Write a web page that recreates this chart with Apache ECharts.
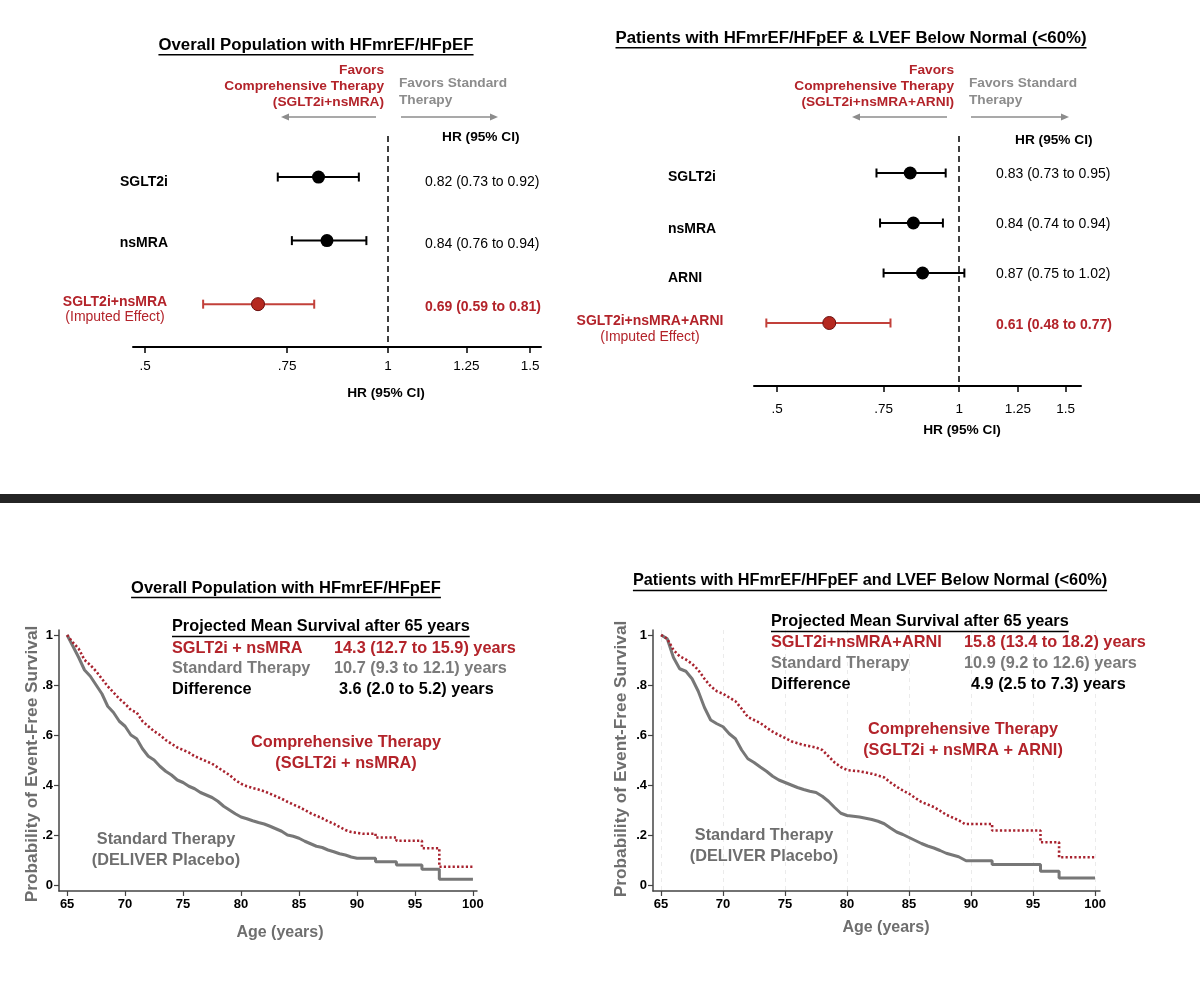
<!DOCTYPE html>
<html>
<head>
<meta charset="utf-8">
<script src="https://cdn.jsdelivr.net/npm/echarts@6/dist/echarts.min.js"></script>
<style>html,body{margin:0;padding:0;background:#fff;}#c{width:1200px;height:1007px;}</style>
</head>
<body>
<div id="c"></div>
<script>
// ---------- DATA ----------
const hrTicks = [0.5, 0.75, 1, 1.25, 1.5];
const hrTickLabels = ['.5', '.75', '1', '1.25', '1.5'];

const fpLeftLabels = ['SGLT2i', 'nsMRA', 'SGLT2i+nsMRA'];
const fpLeftHR = [0.82, 0.84, 0.69];
const fpLeftLo = [0.73, 0.76, 0.59];
const fpLeftHi = [0.92, 0.94, 0.81];
const fpLeftImputed = [0, 0, 1];

const fpRightLabels = ['SGLT2i', 'nsMRA', 'ARNI', 'SGLT2i+nsMRA+ARNI'];
const fpRightHR = [0.83, 0.84, 0.87, 0.61];
const fpRightLo = [0.73, 0.74, 0.75, 0.48];
const fpRightHi = [0.95, 0.94, 1.02, 0.77];
const fpRightImputed = [0, 0, 0, 1];

const ageTicks = [65, 70, 75, 80, 85, 90, 95, 100];
const survTicks = [0, 0.2, 0.4, 0.6, 0.8, 1];
const survTickLabels = ['0', '.2', '.4', '.6', '.8', '1'];

// Bottom-left: Overall population (curve corners)
const kmLeftStdAge = [65,65.5,66,66.5,67,67.5,68,68.5,69,69.5,70,70.5,71,71.5,72,72.5,73,73.5,74,74.5,75,75.5,76,76.5,77,77.5,78,78.5,79,79.5,80,80.5,81,81.5,82,82.5,83,83.5,84,84.5,85,85.5,86,86.5,87,87.5,88,88.5,89,89.5,90,91.6,91.6,93.4,93.4,95.6,95.6,97.1,97.1,100];
const kmLeftStdSurv = [1,0.955,0.91,0.86,0.835,0.8,0.765,0.715,0.69,0.655,0.635,0.6,0.585,0.545,0.515,0.5,0.475,0.455,0.44,0.42,0.41,0.395,0.385,0.37,0.36,0.35,0.335,0.315,0.3,0.285,0.272,0.265,0.257,0.25,0.244,0.235,0.225,0.215,0.2,0.195,0.187,0.175,0.165,0.155,0.15,0.14,0.133,0.125,0.12,0.112,0.107,0.107,0.093,0.093,0.08,0.08,0.063,0.063,0.023,0.023];
const kmLeftCompAge = [65,65.5,66,66.5,67,67.5,68,68.5,69,69.5,70,70.5,71,71.5,72,72.5,73,73.5,74,74.5,75,75.5,76,76.5,77,77.5,78,78.5,79,79.5,80,80.5,81,81.5,82,82.5,83,83.5,84,84.5,85,85.5,86,86.5,87,87.5,88,88.5,89,89.5,90.5,91.6,91.6,93.4,93.4,95.6,95.6,97.1,97.1,100];
const kmLeftCompSurv = [1,0.97,0.945,0.9,0.88,0.855,0.825,0.795,0.77,0.745,0.725,0.7,0.69,0.655,0.635,0.615,0.6,0.58,0.565,0.55,0.54,0.53,0.515,0.505,0.495,0.485,0.47,0.455,0.44,0.42,0.405,0.395,0.388,0.382,0.375,0.365,0.355,0.345,0.333,0.322,0.312,0.3,0.287,0.277,0.267,0.255,0.245,0.232,0.22,0.212,0.205,0.205,0.19,0.19,0.177,0.177,0.147,0.147,0.073,0.073];

// Bottom-right: LVEF < 60%
const kmRightStdAge = [65,65.5,66,66.5,67,67.5,68,68.5,69,69.5,70,70.5,71,71.5,72,72.5,73,73.5,74,74.5,75,75.5,76,76.5,77,77.5,78,78.5,79,79.5,80,80.5,81,81.5,82,82.5,83,83.5,84,84.5,85,85.5,86,86.5,87,87.5,88,88.5,89,89.6,91.7,91.7,95.6,95.6,97.1,97.1,100];
const kmRightStdSurv = [1,0.985,0.91,0.865,0.855,0.825,0.775,0.71,0.66,0.645,0.633,0.605,0.585,0.54,0.505,0.49,0.472,0.455,0.435,0.42,0.41,0.4,0.39,0.382,0.375,0.37,0.355,0.335,0.31,0.287,0.278,0.275,0.272,0.267,0.262,0.255,0.245,0.228,0.212,0.202,0.19,0.178,0.166,0.156,0.148,0.138,0.127,0.12,0.113,0.097,0.097,0.082,0.082,0.055,0.055,0.028,0.028];
const kmRightCompAge = [65,65.5,66,66.5,67,67.5,68,68.5,69,69.5,70,70.5,71,71.5,72,72.5,73,73.5,74,74.5,75,75.5,76,76.5,77,77.5,78,78.5,79,79.5,80,80.5,81,81.5,82,82.5,83,83.5,84,84.5,85,85.5,86,86.5,87,87.5,88,88.5,89,89.5,91.7,91.7,95.6,95.6,97.1,97.1,100];
const kmRightCompSurv = [1,0.985,0.94,0.915,0.902,0.885,0.86,0.825,0.795,0.775,0.765,0.75,0.735,0.705,0.672,0.66,0.648,0.63,0.613,0.6,0.588,0.575,0.567,0.56,0.555,0.55,0.54,0.515,0.49,0.472,0.46,0.457,0.455,0.45,0.445,0.438,0.43,0.41,0.393,0.378,0.365,0.348,0.332,0.322,0.312,0.297,0.281,0.27,0.259,0.244,0.244,0.218,0.218,0.171,0.171,0.111,0.111];

// Projected mean survival summaries
const sumLeftLabels = ['SGLT2i + nsMRA', 'Standard Therapy', 'Difference'];
const sumLeftValues = ['14.3 (12.7 to 15.9) years', '10.7 (9.3 to 12.1) years', '3.6 (2.0 to 5.2) years'];
const sumRightLabels = ['SGLT2i+nsMRA+ARNI', 'Standard Therapy', 'Difference'];
const sumRightValues = ['15.8 (13.4 to 18.2) years', '10.9 (9.2 to 12.6) years', '4.9 (2.5 to 7.3) years'];

// ---------- STYLE ----------
const FF = '"Liberation Sans", Arial, Helvetica, sans-serif';
const RED = '#b3232a';
const REDCI = '#c2403a';
const GRAY_TXT = '#6e6e6e';
const GRAY_LT = '#8c8c8c';
const GRAY_LINE = '#777777';

const mctx = document.createElement('canvas').getContext('2d');
function tw(text, size, bold) { mctx.font = (bold ? 'bold ' : '') + size + 'px ' + FF; return mctx.measureText(text).width; }

function T(x, y, text, o) {
  o = o || {};
  return { type: 'text', x: x, y: y, silent: true, rotation: o.rot || 0, z: 10,
    style: { text: text, fill: o.color || '#000', fontSize: o.size || 14, fontWeight: o.bold === false ? 'normal' : 'bold',
      fontFamily: FF, align: o.align || 'left', verticalAlign: 'middle' } };
}
function U(x, y, text, o) {
  o = o || {};
  const size = o.size || 15;
  const w = tw(text, size, true);
  let x0 = x;
  if (o.align === 'center') x0 = x - w / 2;
  return [T(x, y, text, o), { type: 'line', silent: true, z: 10,
    shape: { x1: x0, y1: y + size * 0.58, x2: x0 + w, y2: y + size * 0.58 },
    style: { stroke: o.color || '#000', lineWidth: 1.4 } }];
}
function arrow(x1, x2, y) {
  const dir = x2 > x1 ? 1 : -1;
  return [
    { type: 'line', silent: true, shape: { x1: x1, y1: y, x2: x2 - dir * 5, y2: y }, style: { stroke: GRAY_LT, lineWidth: 1.3 } },
    { type: 'polygon', silent: true, shape: { points: [[x2, y], [x2 - dir * 8, y - 3.5], [x2 - dir * 8, y + 3.5]] }, style: { fill: GRAY_LT } }
  ];
}
function fmtHR(h, l, u) { return h.toFixed(2) + ' (' + l.toFixed(2) + ' to ' + u.toFixed(2) + ')'; }
function hrLabel(v) {
  for (let i = 0; i < hrTicks.length; i++) if (Math.abs(Math.log(hrTicks[i]) - v) < 1e-6) return hrTickLabels[i];
  return '';
}
function survLabel(v) {
  for (let i = 0; i < survTicks.length; i++) if (Math.abs(survTicks[i] - v) < 1e-6) return survTickLabels[i];
  return '';
}
function zip(a, b) { return a.map((v, i) => [v, b[i]]); }

// ---------- AXES ----------
function hrAxis(gi, mn, mx, margin) {
  const tv = hrTicks.map(Math.log);
  return { gridIndex: gi, type: 'value', min: Math.log(mn), max: Math.log(mx),
    axisLine: { onZero: false, lineStyle: { color: '#000', width: 2 } },
    axisTick: { customValues: tv, length: 6, lineStyle: { color: '#000', width: 1.5 } },
    axisLabel: { customValues: tv, formatter: hrLabel, fontSize: 13.5, color: '#000', fontFamily: FF, margin: margin },
    splitLine: { show: false } };
}
function ageAxis(gi, mn, mx, grid) {
  return { gridIndex: gi, type: 'value', min: mn, max: mx,
    axisLine: { onZero: false, lineStyle: { color: '#444', width: 1.5 } },
    axisTick: { customValues: ageTicks, length: 5, lineStyle: { color: '#444', width: 1.2 } },
    axisLabel: { customValues: ageTicks, fontSize: 13, fontWeight: 'bold', color: '#000', fontFamily: FF, margin: 7 },
    splitLine: { show: !!grid, lineStyle: { type: [4, 4], color: '#ebebeb', width: 1 } } };
}
function survAxis(gi) {
  return { gridIndex: gi, type: 'value', min: -0.024, max: 1.02,
    axisLine: { onZero: false, show: true, lineStyle: { color: '#444', width: 1.5 } },
    axisTick: { show: true, customValues: survTicks, length: 5, lineStyle: { color: '#444', width: 1.2 } },
    axisLabel: { customValues: survTicks, formatter: survLabel, fontSize: 13, fontWeight: 'bold', color: '#000', fontFamily: FF, margin: 6 },
    splitLine: { show: false } };
}

// ---------- SERIES ----------
function forestSeries(ai, hr, lo, hi, imp) {
  const rows = hr.map((h, i) => [Math.log(h), Math.log(lo[i]), Math.log(hi[i]), i + 1, imp[i]]);
  return [
    { type: 'custom', xAxisIndex: ai, yAxisIndex: ai, silent: true, data: rows, encode: { x: [0, 1, 2], y: 3 },
      renderItem: function (params, api) {
        const l = api.coord([api.value(1), api.value(3)]);
        const u = api.coord([api.value(2), api.value(3)]);
        const col = api.value(4) === 1 ? REDCI : '#000';
        const st = { stroke: col, lineWidth: 2 };
        return { type: 'group', children: [
          { type: 'line', shape: { x1: l[0], y1: l[1], x2: u[0], y2: u[1] }, style: st },
          { type: 'line', shape: { x1: l[0], y1: l[1] - 4.5, x2: l[0], y2: l[1] + 4.5 }, style: st },
          { type: 'line', shape: { x1: u[0], y1: u[1] - 4.5, x2: u[0], y2: u[1] + 4.5 }, style: st }
        ] };
      } },
    { type: 'scatter', xAxisIndex: ai, yAxisIndex: ai, silent: true, z: 5, symbolSize: 13,
      data: rows.map(r => ({ value: [r[0], r[3]], itemStyle: r[4] === 1
        ? { color: '#b5281f', borderColor: '#6a1010', borderWidth: 1, opacity: 1 }
        : { color: '#000', opacity: 1 } })),
      markLine: { silent: true, symbol: 'none', label: { show: false },
        lineStyle: { type: [6, 4], color: '#000', width: 1.5 }, data: [{ xAxis: Math.log(1) }] } }
  ];
}
function kmSeries(ai, ages, surv, comp) {
  return { type: 'line', xAxisIndex: ai, yAxisIndex: ai, showSymbol: false, silent: true,
    data: zip(ages, surv), z: comp ? 4 : 3,
    lineStyle: comp ? { color: '#a8232f', width: 2.6, type: [2.2, 2.2] } : { color: GRAY_LINE, width: 3 } };
}

// ---------- GRAPHICS ----------
let g = [];
g.push({ type: 'rect', silent: true, shape: { x: 0, y: 494, width: 1200, height: 9 }, style: { fill: '#242424' } });

// Top-left forest texts
g = g.concat(U(316, 45, 'Overall Population with HFmrEF/HFpEF', { size: 16.8, align: 'center' }));
g.push(T(384, 70, 'Favors', { color: RED, size: 13.7, align: 'right' }));
g.push(T(384, 86, 'Comprehensive Therapy', { color: RED, size: 13.7, align: 'right' }));
g.push(T(384, 102, '(SGLT2i+nsMRA)', { color: RED, size: 13.7, align: 'right' }));
g.push(T(399, 83, 'Favors Standard', { color: GRAY_LT, size: 13.7 }));
g.push(T(399, 100, 'Therapy', { color: GRAY_LT, size: 13.7 }));
g = g.concat(arrow(376, 281, 117), arrow(401, 498, 117));
g.push(T(442, 137, 'HR (95% CI)', { size: 13.7 }));
const leftLabelY = [182, 243, 302];
const leftValY = [182, 244, 307];
fpLeftLabels.forEach((lab, i) => {
  const red = fpLeftImputed[i] === 1;
  if (red) {
    g.push(T(115, leftLabelY[i], lab, { color: RED, size: 14, align: 'center' }));
    g.push(T(115, leftLabelY[i] + 15, '(Imputed Effect)', { color: RED, size: 14, bold: false, align: 'center' }));
  } else {
    g.push(T(168, leftLabelY[i], lab, { size: 14, align: 'right' }));
  }
  g.push(T(425, leftValY[i], fmtHR(fpLeftHR[i], fpLeftLo[i], fpLeftHi[i]), { size: 14, bold: red, color: red ? RED : '#000' }));
});
g.push(T(386, 393, 'HR (95% CI)', { size: 13.7, align: 'center' }));

// Top-right forest texts
g = g.concat(U(851, 38, 'Patients with HFmrEF/HFpEF & LVEF Below Normal (<60%)', { size: 16.8, align: 'center' }));
g.push(T(954, 70, 'Favors', { color: RED, size: 13.7, align: 'right' }));
g.push(T(954, 86, 'Comprehensive Therapy', { color: RED, size: 13.7, align: 'right' }));
g.push(T(954, 102, '(SGLT2i+nsMRA+ARNI)', { color: RED, size: 13.7, align: 'right' }));
g.push(T(969, 83, 'Favors Standard', { color: GRAY_LT, size: 13.7 }));
g.push(T(969, 100, 'Therapy', { color: GRAY_LT, size: 13.7 }));
g = g.concat(arrow(947, 852, 117), arrow(971, 1069, 117));
g.push(T(1015, 140, 'HR (95% CI)', { size: 13.7 }));
const rightLabelY = [177, 229, 278, 321];
const rightValY = [174, 224, 274, 325];
fpRightLabels.forEach((lab, i) => {
  const red = fpRightImputed[i] === 1;
  if (red) {
    g.push(T(650, rightLabelY[i], lab, { color: RED, size: 14, align: 'center' }));
    g.push(T(650, rightLabelY[i] + 16, '(Imputed Effect)', { color: RED, size: 14, bold: false, align: 'center' }));
  } else {
    g.push(T(668, rightLabelY[i], lab, { size: 14 }));
  }
  g.push(T(996, rightValY[i], fmtHR(fpRightHR[i], fpRightLo[i], fpRightHi[i]), { size: 14, bold: red, color: red ? RED : '#000' }));
});
g.push(T(962, 430, 'HR (95% CI)', { size: 13.7, align: 'center' }));

// Bottom-left KM texts
g = g.concat(U(286, 588, 'Overall Population with HFmrEF/HFpEF', { size: 16.5, align: 'center' }));
g = g.concat(U(172, 627, 'Projected Mean Survival after 65 years', { size: 16.3 }));
const sumCols = [RED, '#7a7a7a', '#000'];
const sumLY = [649, 669, 690];
sumLeftLabels.forEach((lab, i) => {
  g.push(T(172, sumLY[i], lab, { size: 16.3, color: sumCols[i] }));
  g.push(T(i === 2 ? 339 : 334, sumLY[i], sumLeftValues[i], { size: 16.3, color: sumCols[i] }));
});
g.push(T(346, 743, 'Comprehensive Therapy', { size: 16.3, color: RED, align: 'center' }));
g.push(T(346, 764, '(SGLT2i + nsMRA)', { size: 16.3, color: RED, align: 'center' }));
g.push(T(166, 840, 'Standard Therapy', { size: 16.3, color: GRAY_TXT, align: 'center' }));
g.push(T(166, 861, '(DELIVER Placebo)', { size: 16.3, color: GRAY_TXT, align: 'center' }));
g.push(T(280, 933, 'Age (years)', { size: 16, color: GRAY_TXT, align: 'center' }));
g.push(T(32, 764, 'Probability of Event-Free Survival', { size: 17.3, color: GRAY_TXT, align: 'center', rot: Math.PI / 2 }));

// Bottom-right KM texts
g = g.concat(U(870, 581, 'Patients with HFmrEF/HFpEF and LVEF Below Normal (<60%)', { size: 16.3, align: 'center' }));
g = g.concat(U(771, 622, 'Projected Mean Survival after 65 years', { size: 16.3 }));
const sumRY = [643, 664, 685];
sumRightLabels.forEach((lab, i) => {
  g.push(T(771, sumRY[i], lab, { size: 16.3, color: sumCols[i] }));
  g.push(T(i === 2 ? 971 : 964, sumRY[i], sumRightValues[i], { size: 16.3, color: sumCols[i] }));
});
g.push(T(963, 730, 'Comprehensive Therapy', { size: 16.3, color: RED, align: 'center' }));
g.push(T(963, 751, '(SGLT2i + nsMRA + ARNI)', { size: 16.3, color: RED, align: 'center' }));
g.push(T(764, 836, 'Standard Therapy', { size: 16.3, color: GRAY_TXT, align: 'center' }));
g.push(T(764, 857, '(DELIVER Placebo)', { size: 16.3, color: GRAY_TXT, align: 'center' }));
g.push(T(886, 928, 'Age (years)', { size: 16, color: GRAY_TXT, align: 'center' }));
g.push(T(621, 759, 'Probability of Event-Free Survival', { size: 17.3, color: GRAY_TXT, align: 'center', rot: Math.PI / 2 }));

// ---------- OPTION ----------
const option = {
  backgroundColor: '#fff',
  animation: false,
  textStyle: { fontFamily: FF },
  grid: [
    { left: 133, top: 136, width: 408, height: 211 },
    { left: 754, top: 136, width: 327, height: 250 },
    { left: 59, top: 630, width: 418, height: 261 },
    { left: 653, top: 630, width: 447, height: 261 }
  ],
  xAxis: [
    hrAxis(0, 0.483, 1.547, 12),
    hrAxis(1, 0.458, 1.59, 16),
    ageAxis(2, 64.3, 100.35, false),
    ageAxis(3, 64.35, 100.4, true)
  ],
  yAxis: [
    { gridIndex: 0, type: 'value', inverse: true, min: 0.354, max: 3.674, show: false, axisLine: { onZero: false } },
    { gridIndex: 1, type: 'value', inverse: true, min: 0.26, max: 5.26, show: false, axisLine: { onZero: false } },
    survAxis(2),
    survAxis(3)
  ],
  series: [].concat(
    forestSeries(0, fpLeftHR, fpLeftLo, fpLeftHi, fpLeftImputed),
    forestSeries(1, fpRightHR, fpRightLo, fpRightHi, fpRightImputed),
    [kmSeries(2, kmLeftStdAge, kmLeftStdSurv, false),
     kmSeries(2, kmLeftCompAge, kmLeftCompSurv, true),
     kmSeries(3, kmRightStdAge, kmRightStdSurv, false),
     kmSeries(3, kmRightCompAge, kmRightCompSurv, true)]
  ),
  graphic: g
};
const chart = echarts.init(document.getElementById('c'), null, { renderer: 'canvas', width: 1200, height: 1007 });
chart.setOption(option);
</script>
</body>
</html>
